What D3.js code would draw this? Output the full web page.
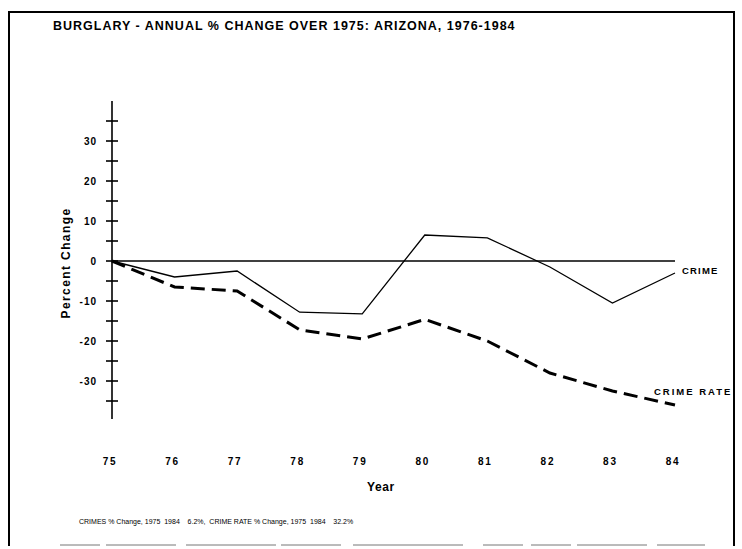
<!DOCTYPE html>
<html>
<head>
<meta charset="utf-8">
<script src="https://cdn.jsdelivr.net/npm/d3@7"></script>
<style>
  body { margin: 0; background: #fff; }
  text { font-family: "Liberation Sans", Arial, sans-serif; fill: #000; }
</style>
</head>
<body>
<svg id="chart" width="742" height="549"></svg>
<script>
// values
const years = ["75", "76", "77", "78", "79", "80", "81", "82", "83", "84"];
const crime = [0, -4, -2.5, -12.8, -13.2, 6.5, 5.8, -1.5, -10.5, -3];
const crimeRate = [0, -6.5, -7.5, -17.2, -19.5, -14.6, -20, -28, -32.5, -36];
const yTicks = [30, 20, 10, 0, -10, -20, -30];
const footer = "CRIMES % Change, 1975  1984    6.2%,  CRIME RATE % Change, 1975  1984    32.2%";

const svg = d3.select("#chart");

// page frame
svg.append("path")
  .attr("d", "M9,546 L9,12 L734,12 L734,546")
  .attr("fill", "none").attr("stroke", "#000").attr("stroke-width", 2);
svg.append("line")
  .attr("x1", 60).attr("x2", 705).attr("y1", 545).attr("y2", 545)
  .attr("stroke", "#777").attr("stroke-width", 1)
  .attr("stroke-dasharray", "40,6,70,10,90,5,60,12,110,20,40,8");

const x = d3.scalePoint().domain(years).range([112, 675]);
const y = d3.scaleLinear().domain([-10, 10]).range([301, 221]);

// title
svg.append("text")
  .attr("x", 53).attr("y", 30)
  .attr("font-size", 12.5).attr("font-weight", "bold")
  .attr("letter-spacing", 1.0)
  .text("BURGLARY - ANNUAL % CHANGE OVER 1975:  ARIZONA, 1976-1984");

// y axis with cross ticks every 5
const axisG = svg.append("g");
axisG.append("line")
  .attr("x1", x("75")).attr("x2", x("75"))
  .attr("y1", y(40)).attr("y2", y(-39.5))
  .attr("stroke", "#000").attr("stroke-width", 1.6);
axisG.selectAll("line.tk")
  .data(d3.range(-35, 36, 5))
  .join("line").attr("class", "tk")
  .attr("x1", x("75") - 6).attr("x2", x("75") + 6)
  .attr("y1", d => y(d)).attr("y2", d => y(d))
  .attr("stroke", "#000").attr("stroke-width", 1.6);
axisG.selectAll("text")
  .data(yTicks)
  .join("text")
  .attr("x", 97).attr("y", d => y(d) + 3.5)
  .attr("text-anchor", "end")
  .attr("font-size", 10).attr("font-weight", "bold")
  .attr("letter-spacing", 1)
  .text(d => d < 0 ? "-" + Math.abs(d) : d);

svg.append("text")
  .attr("transform", `translate(70,${y(-0.5)}) rotate(-90)`)
  .attr("text-anchor", "middle")
  .attr("font-size", 12).attr("font-weight", "bold")
  .attr("letter-spacing", 1.4)
  .text("Percent Change");

// x labels
svg.selectAll("text.xl")
  .data(years)
  .join("text").attr("class", "xl")
  .attr("x", d => x(d) - 2).attr("y", 465)
  .attr("text-anchor", "middle")
  .attr("font-size", 10).attr("font-weight", "bold")
  .attr("letter-spacing", 1.8)
  .text(d => d);

svg.append("text")
  .attr("x", 381).attr("y", 491)
  .attr("text-anchor", "middle")
  .attr("font-size", 12).attr("font-weight", "bold")
  .attr("letter-spacing", 0.6)
  .text("Year");

// zero reference line
svg.append("line")
  .attr("x1", x("75")).attr("x2", x("84"))
  .attr("y1", y(0)).attr("y2", y(0))
  .attr("stroke", "#000").attr("stroke-width", 1.4);

const line = d3.line()
  .x((d, i) => x(years[i]))
  .y(d => y(d));

svg.append("path")
  .datum(crime)
  .attr("d", line)
  .attr("fill", "none").attr("stroke", "#000").attr("stroke-width", 1.3);

svg.append("path")
  .datum(crimeRate)
  .attr("d", line)
  .attr("fill", "none").attr("stroke", "#000").attr("stroke-width", 3)
  .attr("stroke-dasharray", "14,7");

svg.append("text")
  .attr("x", 682).attr("y", y(crime[9]) + 1)
  .attr("font-size", 9.5).attr("font-weight", "bold")
  .attr("letter-spacing", 1.2)
  .text("CRIME");

svg.append("text")
  .attr("x", 654).attr("y", y(crimeRate[9]) - 10)
  .attr("font-size", 9.5).attr("font-weight", "bold")
  .attr("letter-spacing", 2)
  .text("CRIME RATE");

// footer note
svg.append("text")
  .attr("x", 79).attr("y", 524)
  .attr("font-size", 7)
  .attr("xml:space", "preserve")
  .style("white-space", "pre")
  .text(footer);
</script>
</body>
</html>
